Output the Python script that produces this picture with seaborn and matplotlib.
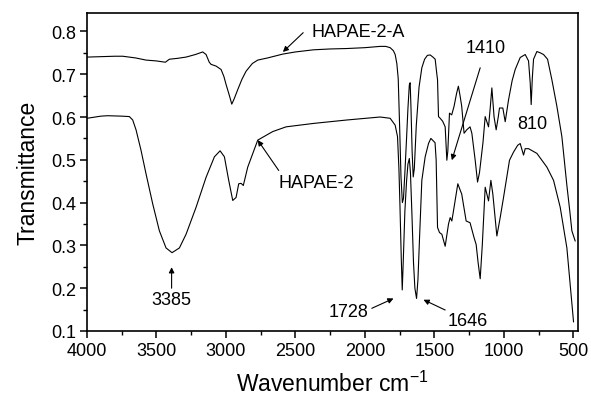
import numpy as np
import pandas as pd
import matplotlib
matplotlib.use('Agg')
import matplotlib.pyplot as plt
import seaborn as sns

# FTIR spectra
wn_a = [4000, 3900, 3800, 3743, 3650, 3575, 3500, 3436, 3407, 3350, 3287, 3220, 3167, 3143,
        3120, 3107, 3071, 3035, 3015, 2999, 2975, 2958, 2940, 2915, 2885, 2855, 2810, 2771,
        2700, 2591, 2500, 2370, 2250, 2130, 2000, 1890, 1850, 1818, 1795, 1782, 1770, 1760,
        1750, 1740, 1730, 1722, 1712, 1700, 1690, 1680, 1674, 1668, 1660, 1652, 1644, 1630,
        1610, 1590, 1570, 1550, 1530, 1510, 1494, 1482, 1477, 1470, 1458, 1440, 1422, 1410,
        1403, 1391, 1375, 1358, 1340, 1327, 1315, 1303, 1286, 1267, 1243, 1230, 1206, 1189,
        1175, 1150, 1134, 1110, 1098, 1086, 1070, 1055, 1040, 1031, 1007, 990, 966, 940,
        918, 882, 846, 822, 810, 803, 795, 786, 762, 738, 714, 685, 654, 618, 582, 546,
        525, 510, 486]
t_a = [0.740, 0.741, 0.742, 0.742, 0.738, 0.733, 0.731, 0.728, 0.735, 0.737, 0.740, 0.746, 0.752, 0.746,
       0.728, 0.723, 0.719, 0.711, 0.695, 0.676, 0.650, 0.630, 0.643, 0.664, 0.688, 0.707, 0.725, 0.733,
       0.738, 0.747, 0.752, 0.757, 0.759, 0.760, 0.762, 0.765, 0.765, 0.762, 0.755, 0.746, 0.725, 0.690,
       0.580, 0.460, 0.400, 0.410, 0.470, 0.550, 0.620, 0.675, 0.680, 0.620, 0.520, 0.460, 0.480, 0.580,
       0.670, 0.715, 0.735, 0.744, 0.745, 0.740, 0.735, 0.700, 0.687, 0.601, 0.597, 0.590, 0.577, 0.499,
       0.520, 0.609, 0.605, 0.625, 0.655, 0.672, 0.650, 0.625, 0.562, 0.570, 0.577, 0.562, 0.499, 0.448,
       0.470, 0.540, 0.601, 0.577, 0.620, 0.668, 0.600, 0.570, 0.600, 0.621, 0.621, 0.589, 0.640, 0.685,
       0.711, 0.739, 0.746, 0.731, 0.680, 0.629, 0.690, 0.735, 0.753, 0.750, 0.746, 0.735, 0.687, 0.625,
       0.554, 0.440, 0.380, 0.334, 0.310]

wn_b = [4000, 3900, 3851, 3750, 3695, 3671, 3647, 3611, 3575, 3527, 3479, 3431, 3388, 3335,
        3287, 3215, 3143, 3083, 3042, 3011, 2980, 2951, 2927, 2908, 2891, 2875, 2860, 2843,
        2771, 2663, 2567, 2370, 2130, 1890, 1818, 1782, 1765, 1755, 1748, 1738, 1731, 1724,
        1712, 1700, 1690, 1680, 1672, 1662, 1650, 1640, 1628, 1618, 1605, 1590, 1566, 1542,
        1525, 1510, 1495, 1487, 1477, 1463, 1446, 1422, 1398, 1386, 1374, 1358, 1331, 1315,
        1303, 1271, 1243, 1214, 1199, 1185, 1170, 1155, 1134, 1110, 1093, 1079, 1050, 1026,
        1002, 959, 930, 900, 882, 858, 846, 822, 762, 690, 642, 594, 546, 498]
t_b = [0.597, 0.602, 0.603, 0.602, 0.601, 0.593, 0.570, 0.522, 0.467, 0.397, 0.334, 0.294, 0.283, 0.294,
       0.326, 0.389, 0.459, 0.507, 0.521, 0.507, 0.452, 0.405, 0.412, 0.444, 0.445, 0.440, 0.460, 0.483,
       0.546, 0.566, 0.577, 0.585, 0.593, 0.600, 0.597, 0.581, 0.554, 0.480, 0.400, 0.270, 0.196, 0.260,
       0.380, 0.450, 0.490, 0.503, 0.470, 0.380, 0.260, 0.200, 0.176, 0.220, 0.330, 0.452, 0.507, 0.538,
       0.550, 0.545, 0.540, 0.500, 0.342, 0.330, 0.326, 0.298, 0.350, 0.365, 0.357, 0.389, 0.444, 0.430,
       0.420, 0.357, 0.353, 0.318, 0.302, 0.260, 0.222, 0.300, 0.436, 0.404, 0.452, 0.420, 0.322, 0.365,
       0.412, 0.499, 0.518, 0.534, 0.538, 0.511, 0.526, 0.526, 0.515, 0.483, 0.452, 0.389, 0.294, 0.121]

df = pd.concat([
    pd.DataFrame({'wn': wn_a, 't': t_a, 'sample': 'HAPAE-2-A'}),
    pd.DataFrame({'wn': wn_b, 't': t_b, 'sample': 'HAPAE-2'}),
])

sns.set_theme(style='ticks')
plt.rcParams['font.family'] = ['Liberation Sans', 'DejaVu Sans']
plt.rcParams['mathtext.fontset'] = 'custom'
plt.rcParams['mathtext.rm'] = 'Liberation Sans'
plt.rcParams['mathtext.it'] = 'Liberation Sans:italic'
plt.rcParams['text.color'] = 'black'
plt.rcParams['axes.labelcolor'] = 'black'

fig = plt.figure(figsize=(5.91, 4.06), dpi=100)
ax = fig.add_axes([0.1472, 0.1823, 0.8308, 0.7832])

sns.lineplot(data=df, x='wn', y='t', units='sample', estimator=None, sort=False,
             color='black', linewidth=0.8, ax=ax, legend=False)

ax.set_xlim(4000, 466)
ax.set_ylim(0.1, 0.843)
ax.set_xticks([4000, 3500, 3000, 2500, 2000, 1500, 1000, 500])
ax.set_xticks(np.arange(3750, 450, -500), minor=True)
ax.set_yticks([0.1, 0.2, 0.3, 0.4, 0.5, 0.6, 0.7, 0.8])
ax.set_yticks(np.arange(0.15, 0.84, 0.1), minor=True)
ax.tick_params(axis='both', which='major', direction='out', length=5, width=1.1,
               labelsize=13, colors='black', pad=3)
ax.tick_params(axis='both', which='minor', direction='out', length=3, width=1.0, colors='black')
for s in ax.spines.values():
    s.set_linewidth(1.2)
    s.set_color('black')
    s.set_visible(True)

ax.set_xlabel('Wavenumber cm$^{-1}$', fontsize=16.5, labelpad=8, color='black')
ax.set_ylabel('Transmittance', fontsize=16.5, labelpad=8, color='black')

arrow = dict(arrowstyle='-|>', color='black', lw=0.8, mutation_scale=8, shrinkA=0, shrinkB=0)
fs = 13

ax.text(2382, 0.80, 'HAPAE-2-A', fontsize=fs, ha='left', va='center', color='black')
ax.annotate('', xy=(2590, 0.752), xytext=(2444, 0.797), arrowprops=arrow)

ax.text(2625, 0.448, 'HAPAE-2', fontsize=fs, ha='left', va='center', color='black')
ax.annotate('', xy=(2771, 0.546), xytext=(2620, 0.475), arrowprops=arrow)

ax.text(1134, 0.762, '1410', fontsize=fs, ha='center', va='center', color='black')
ax.annotate('', xy=(1374, 0.499), xytext=(1170, 0.715), arrowprops=arrow)

ax.text(798, 0.585, '810', fontsize=fs, ha='center', va='center', color='black')

ax.text(3391, 0.173, '3385', fontsize=fs, ha='center', va='center', color='black')
ax.annotate('', xy=(3391, 0.249), xytext=(3391, 0.200), arrowprops=arrow)

ax.text(2118, 0.145, '1728', fontsize=fs, ha='center', va='center', color='black')
ax.annotate('', xy=(1794, 0.176), xytext=(1950, 0.153), arrowprops=arrow)

ax.text(1260, 0.125, '1646', fontsize=fs, ha='center', va='center', color='black')
ax.annotate('', xy=(1578, 0.173), xytext=(1422, 0.149), arrowprops=arrow)

fig.savefig('out.png', dpi=100)
